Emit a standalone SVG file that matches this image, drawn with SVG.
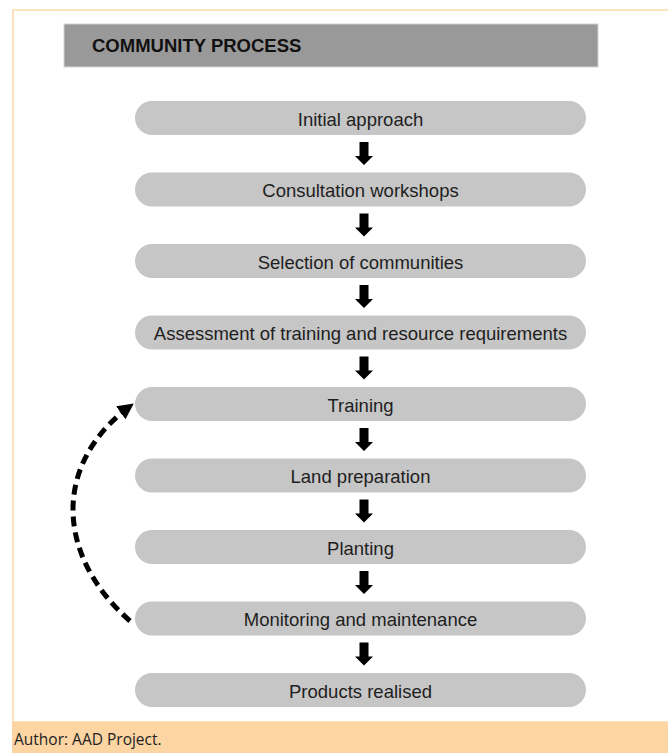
<svg xmlns="http://www.w3.org/2000/svg" width="668" height="753" viewBox="0 0 668 753">
  <style>
    .pill { fill: #c6c6c6; }
    .lbl { font-family: "Liberation Sans", Arial, sans-serif; font-size: 18.5px; fill: #1e1e1e; text-anchor: middle; }
    .hdr { font-family: "Liberation Sans", Arial, sans-serif; font-size: 18.5px; font-weight: bold; fill: #111; }
    .cap { font-family: "Open Sans", "DejaVu Sans", sans-serif; font-size: 15.5px; fill: #222; }
    .down { fill: #000; }
  </style>
  <defs>
    <marker id="ah" markerUnits="userSpaceOnUse" markerWidth="20" markerHeight="20" refX="15" refY="8" orient="auto">
      <path d="M0,0 L16,8 L0,16 Z" fill="#000"/>
    </marker>
    <path id="arr" d="M-4.5,0 H4.5 V14 H9 L0,23 L-9,14 H-4.5 Z"/>
  </defs>
  <rect x="0" y="0" width="668" height="753" fill="#fff"/>
  <rect x="13" y="10" width="700" height="712" fill="none" stroke="#fcd9a8" stroke-width="1.5"/>
  <rect x="12" y="722" width="656" height="31" fill="#fcd5a3"/>
  <text class="cap" x="14" y="745">Author: AAD Project.</text>

  <g id="header">
    <rect x="64" y="24" width="534" height="43" fill="#999999" stroke="#d4d4d4" stroke-width="1"/>
    <text class="hdr" x="92" y="52">COMMUNITY PROCESS</text>
  </g>

  <g id="n1"><rect class="pill" x="135" y="101" width="451" height="34" rx="17"/><text class="lbl" x="360.5" y="125.5">Initial approach</text></g>
  <g id="n2"><rect class="pill" x="135" y="172.5" width="451" height="34" rx="17"/><text class="lbl" x="360.5" y="197">Consultation workshops</text></g>
  <g id="n3"><rect class="pill" x="135" y="244" width="451" height="34" rx="17"/><text class="lbl" x="360.5" y="268.5">Selection of communities</text></g>
  <g id="n4"><rect class="pill" x="135" y="315.5" width="451" height="34" rx="17"/><text class="lbl" x="360.5" y="340">Assessment of training and resource requirements</text></g>
  <g id="n5"><rect class="pill" x="135" y="387" width="451" height="34" rx="17"/><text class="lbl" x="360.5" y="411.5">Training</text></g>
  <g id="n6"><rect class="pill" x="135" y="458.5" width="451" height="34" rx="17"/><text class="lbl" x="360.5" y="483">Land preparation</text></g>
  <g id="n7"><rect class="pill" x="135" y="530" width="451" height="34" rx="17"/><text class="lbl" x="360.5" y="554.5">Planting</text></g>
  <g id="n8"><rect class="pill" x="135" y="601.5" width="451" height="34" rx="17"/><text class="lbl" x="360.5" y="626">Monitoring and maintenance</text></g>
  <g id="n9"><rect class="pill" x="135" y="673" width="451" height="34" rx="17"/><text class="lbl" x="360.5" y="697.5">Products realised</text></g>

  <g id="connectors">
    <use href="#arr" class="down" x="364" y="142"/>
    <use href="#arr" class="down" x="364" y="213.5"/>
    <use href="#arr" class="down" x="364" y="285"/>
    <use href="#arr" class="down" x="364" y="356.5"/>
    <use href="#arr" class="down" x="364" y="428"/>
    <use href="#arr" class="down" x="364" y="499.5"/>
    <use href="#arr" class="down" x="364" y="571"/>
    <use href="#arr" class="down" x="364" y="642.5"/>
    <path d="M130,621 C55,555 52,462 133,404" fill="none" stroke="#000" stroke-width="5" stroke-dasharray="10,6" marker-end="url(#ah)"/>
  </g>
</svg>
